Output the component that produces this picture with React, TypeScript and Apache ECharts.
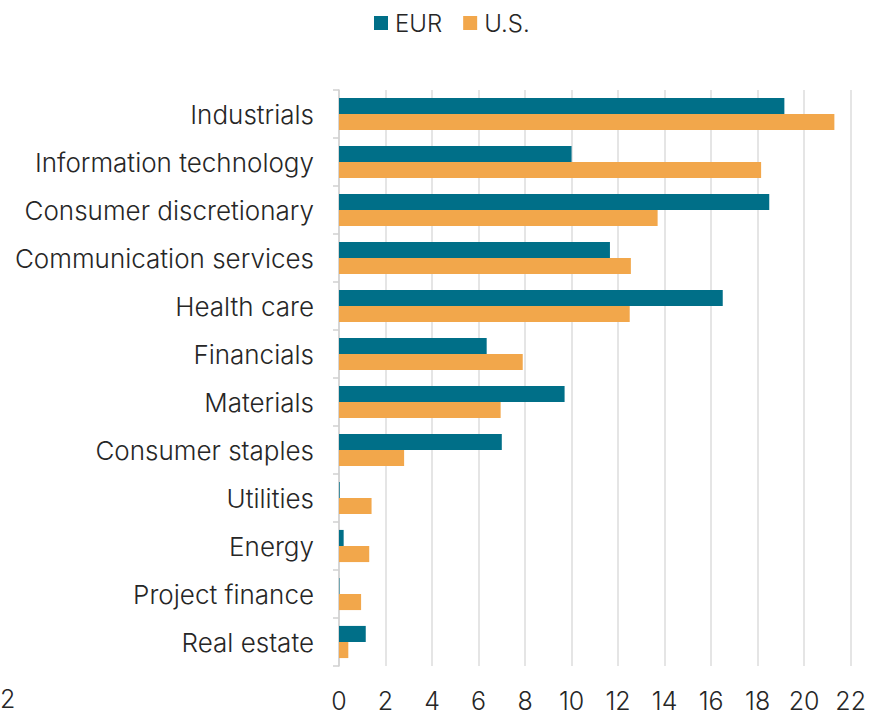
import React, { useEffect, useRef } from "react";
import * as echarts from "echarts";

const categories = [
  "Industrials",
  "Information technology",
  "Consumer discretionary",
  "Communication services",
  "Health care",
  "Financials",
  "Materials",
  "Consumer staples",
  "Utilities",
  "Energy",
  "Project finance",
  "Real estate",
];
const eurValues = [19.15, 10.0, 18.5, 11.65, 16.5, 6.35, 9.7, 7.0, 0.03, 0.2, 0.02, 1.15];
const usValues = [21.3, 18.15, 13.7, 12.55, 12.5, 7.9, 6.95, 2.8, 1.4, 1.3, 0.95, 0.4];
const seriesNames = ["EUR", "U.S."];
const xTicks = { min: 0, max: 22, interval: 2 };

const FONT = "Inter";
const TEXT = "#262626";

export default function App() {
  const ref = useRef<HTMLDivElement>(null);
  useEffect(() => {
    if (!ref.current) return;
    const chart = echarts.init(ref.current, undefined, { renderer: "svg" });
    chart.setOption({
      animation: false,
      backgroundColor: "#ffffff",
      textStyle: { fontFamily: FONT },
      legend: {
        data: seriesNames,
        left: 369,
        top: 6,
        itemWidth: 14,
        itemHeight: 14,
        itemGap: 21,
        icon: "rect",
        textStyle: {
          fontFamily: FONT,
          fontWeight: 300,
          fontSize: 24,
          color: TEXT,
          padding: [0, 0, 0, 2],
        },
      },
      grid: { left: 339, right: 18, top: 90, bottom: 49, containLabel: false },
      xAxis: {
        type: "value",
        min: xTicks.min,
        max: xTicks.max,
        interval: xTicks.interval,
        axisLine: { show: false },
        axisTick: { show: false },
        splitLine: { show: true, lineStyle: { color: "#dcdcdc", width: 1.5 } },
        axisLabel: {
          margin: 22,
          fontFamily: FONT,
          fontWeight: 300,
          fontSize: 25,
          color: TEXT,
        },
      },
      yAxis: {
        type: "category",
        data: categories,
        inverse: true,
        axisLine: { show: true, lineStyle: { color: "#d0d0d0", width: 1.5 } },
        axisTick: { show: true, length: 6, lineStyle: { color: "#d0d0d0", width: 1.5 } },
        axisLabel: {
          margin: 25,
          fontFamily: FONT,
          fontWeight: 300,
          fontSize: 26,
          color: TEXT,
          padding: [0, 0, 4, 0],
        },
        splitLine: { show: false },
      },
      series: [
        {
          name: seriesNames[0],
          type: "bar",
          data: eurValues,
          barGap: "0%",
          barCategoryGap: "33%",
          itemStyle: { color: "#006f88" },
        },
        {
          name: seriesNames[1],
          type: "bar",
          data: usValues,
          barGap: "0%",
          barCategoryGap: "33%",
          itemStyle: { color: "#f2a74b" },
        },
      ],
      graphic: [
        {
          type: "text",
          left: 0,
          top: 686,
          style: {
            text: "2",
            fontFamily: FONT,
            fontWeight: 300,
            fontSize: 25,
            fill: TEXT,
          },
        },
      ],
    });
    return () => chart.dispose();
  }, []);
  return (
    <div
      ref={ref}
      style={{ position: "fixed", left: 0, top: 0, width: 869, height: 715 }}
    />
  );
}
